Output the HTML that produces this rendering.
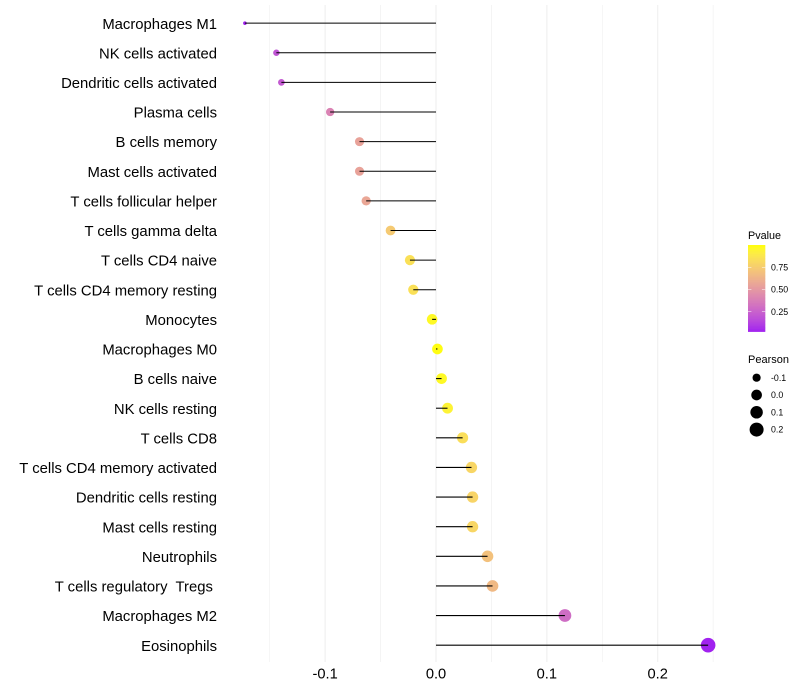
<!DOCTYPE html>
<html>
<head>
<meta charset="utf-8">
<title>Immune cell correlation lollipop chart</title>
<style>
html,body{margin:0;padding:0;background:#fff;}
svg{display:block;font-family:"Liberation Sans",sans-serif;}
</style>
</head>
<body>
<svg id="chart" width="800" height="700" viewBox="0 0 800 700" xmlns="http://www.w3.org/2000/svg">
<rect x="0" y="0" width="800" height="700" fill="#ffffff"/>
<g id="grid"></g>
<g id="points"></g>
<g id="stems"></g>
<g id="ylabels"></g>
<g id="xlabels"></g>
<g id="colorLegend">
<text x="748" y="239" font-size="10.8" fill="#000">Pvalue</text>
<g id="colorBar"></g>
</g>
<g id="sizeLegend">
<text x="748" y="363" font-size="11" fill="#000">Pearson</text>
</g>
</svg>
<script>
const categories = ["Macrophages M1","NK cells activated","Dendritic cells activated","Plasma cells","B cells memory","Mast cells activated","T cells follicular helper","T cells gamma delta","T cells CD4 naive","T cells CD4 memory resting","Monocytes","Macrophages M0","B cells naive","NK cells resting","T cells CD8","T cells CD4 memory activated","Dendritic cells resting","Mast cells resting","Neutrophils","T cells regulatory  Tregs ","Macrophages M2","Eosinophils"];
const pearson = [-0.1724,-0.144,-0.1395,-0.0955,-0.069,-0.069,-0.063,-0.041,-0.0235,-0.0205,-0.0035,0.0013,0.005,0.0104,0.024,0.032,0.033,0.033,0.0465,0.051,0.1163,0.2455];
const pvalue = [0.03,0.2,0.22,0.4,0.55,0.55,0.57,0.74,0.85,0.85,0.97,0.99,0.97,0.94,0.84,0.8,0.79,0.8,0.7,0.66,0.3,0.03];
const xMajorTicks = [-0.1,0,0.1,0.2];
const xMajorLabels = ["-0.1","0.0","0.1","0.2"];
const xMinorTicks = [-0.15,-0.05,0.05,0.15,0.25];
const colorBreaks = [0.25,0.5,0.75];
const colorBreakLabels = ["0.25","0.50","0.75"];
const sizeBreaks = [-0.1,0,0.1,0.2];
const sizeBreakLabels = ["-0.1","0.0","0.1","0.2"];
const colorDomain = [0.025,1];
const sizeDomain = [-0.1724,0.2455];

const NS = "http://www.w3.org/2000/svg";
function mk(tag, attrs, parent){
  const e = document.createElementNS(NS, tag);
  for (const k in attrs) e.setAttribute(k, attrs[k]);
  parent.appendChild(e);
  return e;
}
function x(v){ return 436 + v * 1108.5; }
function y(i){ return 23.15 + i * 29.62; }
function radius(v){
  const t = (v - sizeDomain[0]) / (sizeDomain[1] - sizeDomain[0]);
  return 1.8 + 5.5 * Math.sqrt(Math.max(0, t));
}
function srgb2lin(c){ c/=255; return c<=0.04045 ? c/12.92 : Math.pow((c+0.055)/1.055,2.4); }
function lin2srgb(c){ c = c<=0.0031308 ? 12.92*c : 1.055*Math.pow(c,1/2.4)-0.055; return Math.round(255*Math.min(1,Math.max(0,c))); }
function rgb2lab(r,g,b){
  const R=srgb2lin(r),G=srgb2lin(g),B=srgb2lin(b);
  const f=t=>t>0.008856?Math.cbrt(t):7.787*t+16/116;
  const X=f((0.4124*R+0.3576*G+0.1805*B)/0.95047),Y=f(0.2126*R+0.7152*G+0.0722*B),Z=f((0.0193*R+0.1192*G+0.9505*B)/1.08883);
  return [116*Y-16,500*(X-Y),200*(Y-Z)];
}
function lab2rgb(L,a,b){
  const fy=(L+16)/116,fx=fy+a/500,fz=fy-b/200;
  const g=t=>t*t*t>0.008856?t*t*t:(t-16/116)/7.787;
  const X=g(fx)*0.95047,Y=g(fy),Z=g(fz)*1.08883;
  const r=3.2406*X-1.5372*Y-0.4986*Z,gg=-0.9689*X+1.8758*Y+0.0415*Z,bb=0.0557*X-0.2040*Y+1.0570*Z;
  return "rgb("+lin2srgb(r)+","+lin2srgb(gg)+","+lin2srgb(bb)+")";
}
const labLow = rgb2lab(160,32,240);
const labHigh = rgb2lab(255,255,0);
function color(p){
  const t = Math.min(1,Math.max(0,(p-colorDomain[0])/(colorDomain[1]-colorDomain[0])));
  return lab2rgb(labLow[0]+t*(labHigh[0]-labLow[0]),labLow[1]+t*(labHigh[1]-labLow[1]),labLow[2]+t*(labHigh[2]-labLow[2]));
}

const grid = document.getElementById("grid");
xMinorTicks.forEach(function(v){
  const l = mk("line",{x1:x(v),x2:x(v),y1:5,y2:662,stroke:"#eeeeee","stroke-width":0.6},grid);
  
  
});
xMajorTicks.forEach(function(v){
  const l = mk("line",{x1:x(v),x2:x(v),y1:5,y2:662,stroke:"#efefef","stroke-width":1.07},grid);
  
  
});

const ptsG = document.getElementById("points");
const stemG = document.getElementById("stems");
const yl = document.getElementById("ylabels");
categories.forEach(function(name,i){
  const c = mk("circle",{cx:x(pearson[i]),cy:y(i),r:radius(pearson[i]),fill:color(pvalue[i])},ptsG);
  
  
  const s = mk("line",{x1:x(0),x2:x(pearson[i]),y1:y(i),y2:y(i),stroke:"#000","stroke-width":1.07},stemG);
  
  
  const t = mk("text",{x:217,y:y(i)+5.6,"text-anchor":"end","font-size":14.85,fill:"#000"},yl);
  t.style.whiteSpace = "pre";
  t.textContent = name;
  
  
});

const xl = document.getElementById("xlabels");
xMajorTicks.forEach(function(v,i){
  const t = mk("text",{x:x(v),y:678.5,"text-anchor":"middle","font-size":14.67,fill:"#000"},xl);
  t.textContent = xMajorLabels[i];
  
  
});

const barTop = 245.2, barBottom = 331.7, barLeft = 748, barW = 17.3;
function barY(p){ return barBottom - (p-colorDomain[0])/(colorDomain[1]-colorDomain[0])*(barBottom-barTop); }
const cb = document.getElementById("colorBar");
const nBins = 60;
for (let k=0;k<nBins;k++){
  const p0 = colorDomain[0]+(colorDomain[1]-colorDomain[0])*k/nBins;
  const p1 = colorDomain[0]+(colorDomain[1]-colorDomain[0])*(k+1)/nBins;
  const r = mk("rect",{x:barLeft,width:barW,y:barY(p1)-0.2,height:barY(p0)-barY(p1)+0.4,fill:color((p0+p1)/2)},cb);
  
  
}
colorBreaks.forEach(function(p,i){
  const a = mk("line",{x1:barLeft,x2:barLeft+3.4,y1:barY(p),y2:barY(p),stroke:"#fff","stroke-width":0.5},cb);
  
  
  const b = mk("line",{x1:barLeft+barW-3.4,x2:barLeft+barW,y1:barY(p),y2:barY(p),stroke:"#fff","stroke-width":0.5},cb);
  
  
  const t = mk("text",{x:771,y:barY(p)+3.1,"font-size":8.8,fill:"#000"},cb);
  t.textContent = colorBreakLabels[i];
  
  
});

const sl = document.getElementById("sizeLegend");
sizeBreaks.forEach(function(v,i){
  const cy = 377.7 + i*17.3;
  const c = mk("circle",{cx:756.6,cy:cy,r:radius(v),fill:"#000"},sl);
  
  
  const t = mk("text",{x:771,y:cy+3.1,"font-size":8.8,fill:"#000"},sl);
  t.textContent = sizeBreakLabels[i];
  
  
});
</script>
</body>
</html>
